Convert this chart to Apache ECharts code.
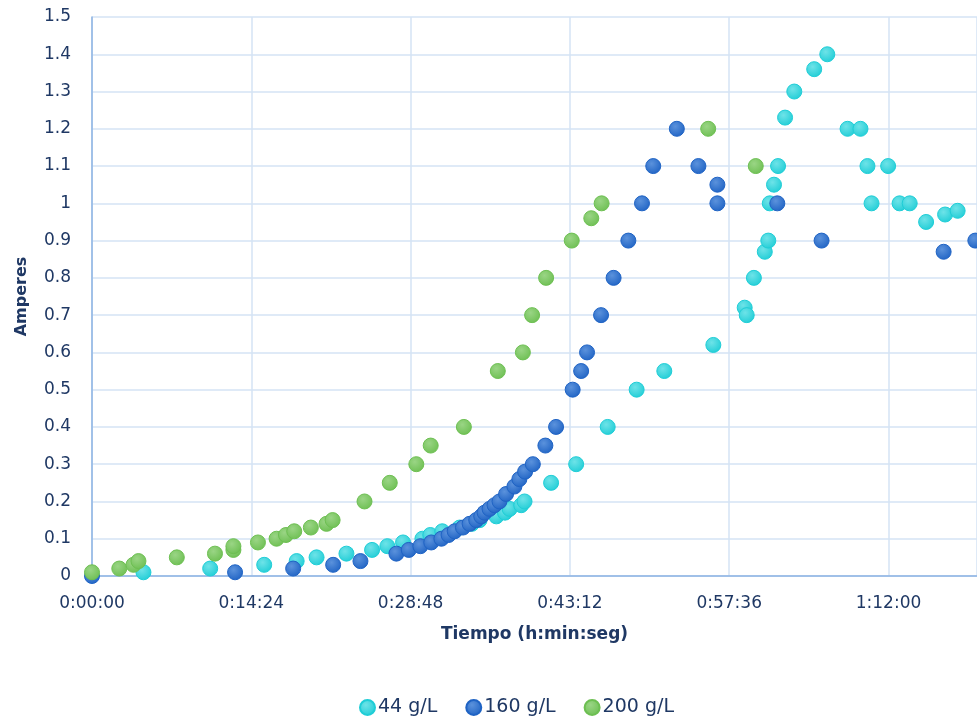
<!DOCTYPE html>
<html>
<head>
<meta charset="utf-8">
<title>Amperes vs Tiempo</title>
<script src="https://cdn.jsdelivr.net/npm/echarts@6/dist/echarts.min.js"></script>
<style>
    html, body { margin: 0; padding: 0; background: #fff; }
    #chart1 { width: 977px; height: 719px; }
</style>
</head>
<body>
<div id="chart1"></div>
<script>
/* dispersión corriente vs tiempo */

// tiempo en segundos, corriente en amperes
var t44 = [279, 641, 934, 1110, 1218, 1380, 1519, 1602, 1687, 1792, 1835, 1900, 1994, 2060, 2102, 2193, 2240, 2265, 2328, 2346,
    2490, 2626, 2797, 2954, 3104, 3370, 3540, 3551, 3590, 3649, 3668, 3676, 3699, 3721, 3759, 3809, 3917, 3988,
    4098, 4168, 4206, 4228, 4318, 4380, 4435, 4524, 4627, 4695];
var a44 = [0.01, 0.02, 0.03, 0.04, 0.05, 0.06, 0.07, 0.08, 0.09, 0.10, 0.11, 0.12, 0.13, 0.14, 0.15, 0.16, 0.17, 0.18, 0.19, 0.20,
    0.25, 0.30, 0.40, 0.50, 0.55, 0.62, 0.72, 0.70, 0.80, 0.87, 0.90, 1.00, 1.05, 1.10, 1.23, 1.30, 1.36, 1.40,
    1.20, 1.20, 1.10, 1.00, 1.10, 1.00, 1.00, 0.95, 0.97, 0.98];

var t160 = [0, 776, 1091, 1308, 1456, 1651, 1718, 1781, 1840, 1895, 1934, 1967, 2012, 2048, 2084, 2111, 2129, 2156, 2183, 2210,
    2246, 2291, 2318, 2349, 2391, 2459, 2517, 2607, 2653, 2685, 2761, 2829, 2909, 2983, 3044, 3172, 3289, 3392, 3392,
    3717, 3957, 4619, 4791];
var a160 = [0.00, 0.01, 0.02, 0.03, 0.04, 0.06, 0.07, 0.08, 0.09, 0.10, 0.11, 0.12, 0.13, 0.14, 0.15, 0.16, 0.17, 0.18, 0.19, 0.20,
    0.22, 0.24, 0.26, 0.28, 0.30, 0.35, 0.40, 0.50, 0.55, 0.60, 0.70, 0.80, 0.90, 1.00, 1.10, 1.20, 1.10, 1.05, 1.00,
    1.00, 0.90, 0.87, 0.90];

var t200 = [0, 148, 225, 252, 460, 667, 767, 767, 900, 1001, 1052, 1097, 1187, 1272, 1305, 1478, 1615, 1759, 1837, 2017,
    2201, 2337, 2387, 2463, 2602, 2708, 2764, 3342, 3600];
var a200 = [0.01, 0.02, 0.03, 0.04, 0.05, 0.06, 0.07, 0.08, 0.09, 0.10, 0.11, 0.12, 0.13, 0.14, 0.15, 0.20, 0.25, 0.30, 0.35, 0.40,
    0.55, 0.60, 0.70, 0.80, 0.90, 0.96, 1.00, 1.20, 1.10];

var seriesNames = ['44 g/L', '160 g/L', '200 g/L'];
var seriesColors = ['#1fcdd6', '#1f63c4', '#6dbf52'];
var seriesLight = ['#6ee3e8', '#5b92dc', '#9ad585'];

var textColor = '#1f3864';
var fontName = 'DejaVu Sans';

function fmtTime(s) {
    var h = Math.floor(s / 3600);
    var m = Math.floor((s % 3600) / 60);
    var sec = Math.round(s % 60);
    return h + ':' + (m < 10 ? '0' : '') + m + ':' + (sec < 10 ? '0' : '') + sec;
}

function pairs(ts, as) {
    var out = [];
    for (var i = 0; i < ts.length; i++) {
        out.push([ts[i], as[i]]);
    }
    return out;
}

var allData = [pairs(t44, a44), pairs(t160, a160), pairs(t200, a200)];

var chart = echarts.init(document.getElementById('chart1'));

var option = {
    animation: false,
    textStyle: { fontFamily: fontName, color: textColor },
    grid: {
        left: 92,
        top: 17,
        right: 0,
        bottom: 143
    },
    legend: {
        data: seriesNames,
        left: 354,
        top: 693,
        icon: 'circle',
        itemWidth: 15,
        itemHeight: 15,
        itemGap: 28,
        textStyle: { fontSize: 19, color: textColor, fontFamily: fontName, padding: [0, 0, 0, -2] }
    },
    xAxis: {
        type: 'value',
        min: 0,
        max: 4800,
        interval: 864,
        name: 'Tiempo (h:min:seg)',
        nameLocation: 'middle',
        nameGap: 50,
        nameTextStyle: { fontSize: 17, fontWeight: 'bold', color: textColor, fontFamily: fontName },
        axisLine: { show: true, lineStyle: { color: '#8cb3e3', width: 1.5 } },
        axisTick: { show: false },
        splitLine: { show: true, lineStyle: { color: '#d4e3f4', width: 1.5 } },
        axisLabel: {
            fontSize: 17,
            color: textColor,
            margin: 19,
            showMaxLabel: false,
            formatter: function (v) { return fmtTime(v); }
        }
    },
    yAxis: {
        type: 'value',
        min: 0,
        max: 1.5,
        interval: 0.1,
        name: 'Amperes',
        nameLocation: 'middle',
        nameGap: 62,
        nameTextStyle: { fontSize: 16, fontWeight: 'bold', color: textColor, fontFamily: fontName },
        axisLine: { show: true, lineStyle: { color: '#8cb3e3', width: 1.5 } },
        axisTick: { show: false },
        splitLine: { show: true, lineStyle: { color: '#d4e3f4', width: 1.5 } },
        axisLabel: {
            fontSize: 17,
            color: textColor,
            margin: 21,
            formatter: function (v) { return String(Math.round(v * 10) / 10); }
        }
    },
    series: []
};

for (var i = 0; i < seriesNames.length; i++) {
    option.series.push({
        name: seriesNames[i],
        type: 'scatter',
        data: allData[i],
        symbol: 'circle',
        symbolSize: 15,
        itemStyle: {
            color: {
                type: 'radial', x: 0.4, y: 0.35, r: 0.7,
                colorStops: [
                    { offset: 0, color: seriesLight[i] },
                    { offset: 1, color: seriesColors[i] }
                ]
            },
            borderColor: seriesColors[i],
            borderWidth: 1,
            opacity: 1
        },
        emphasis: { disabled: true }
    });
}

chart.setOption(option);
</script>
</body>
</html>
